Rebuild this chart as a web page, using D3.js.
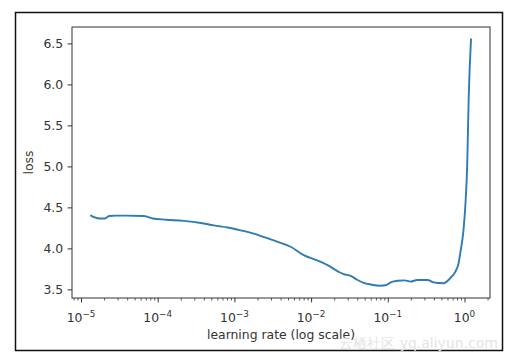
<!DOCTYPE html>
<html>
<head>
<meta charset="utf-8">
<script src="https://cdn.jsdelivr.net/npm/d3@7"></script>
<style>
  html, body { margin: 0; padding: 0; background: #fff; }
  svg { display: block; }
  text { font-family: "DejaVu Sans", sans-serif; }
</style>
</head>
<body>
<svg id="chart" width="511" height="360"></svg>
<script>
// ---- data ----
const learningRates = [
  1.35e-5, 1.48e-5, 1.71e-5, 2.05e-5, 2.32e-5, 2.86e-5, 3.85e-5, 6.61e-5,
  8.66e-5, 1.28e-4, 2.19e-4, 3.65e-4, 5.40e-4, 8.20e-4, 1.21e-3, 1.79e-3,
  2.56e-3, 3.67e-3, 5.42e-3, 8.02e-3, 1.15e-2, 1.64e-2, 2.29e-2, 2.65e-2,
  3.28e-2, 3.93e-2, 4.84e-2, 5.97e-2, 8.05e-2, 9.35e-2, 0.109, 0.134,
  0.166, 0.198, 0.244, 0.330, 0.394, 0.530, 0.658, 0.764,
  0.836, 0.887, 0.970, 1.030, 1.084, 1.135, 1.216
];
const losses = [
  4.40, 4.38, 4.365, 4.365, 4.395, 4.40, 4.40, 4.395,
  4.365, 4.35, 4.335, 4.31, 4.28, 4.255, 4.22, 4.18,
  4.13, 4.08, 4.02, 3.917, 3.86, 3.796, 3.714, 3.686,
  3.665, 3.62, 3.58, 3.56, 3.545, 3.55, 3.585, 3.605,
  3.61, 3.595, 3.615, 3.615, 3.585, 3.575, 3.64, 3.72,
  3.816, 3.96, 4.22, 4.55, 5.0, 5.84, 6.55
];
const yTickValues = [3.5, 4.0, 4.5, 5.0, 5.5, 6.0, 6.5];
const xTickExponents = [-5, -4, -3, -2, -1, 0];
const xLabel = "learning rate (log scale)";
const yLabel = "loss";
const watermark = "云栖社区 yq.aliyun.com";

// ---- layout ----
const svg = d3.select("#chart");
const plot = { left: 72, top: 27, right: 490, bottom: 298 };
const fs = 12.4;

// matplotlib-like 5% margins
const lxMin = Math.log10(d3.min(learningRates)), lxMax = Math.log10(d3.max(learningRates));
const lxPad = (lxMax - lxMin) * 0.05;
const yMin = d3.min(losses), yMax = d3.max(losses);
const yPad = (yMax - yMin) * 0.05;

const x = d3.scaleLog()
  .domain([Math.pow(10, lxMin - lxPad), Math.pow(10, lxMax + lxPad)])
  .range([plot.left, plot.right]);
const y = d3.scaleLinear()
  .domain([yMin - yPad, yMax + yPad])
  .range([plot.bottom, plot.top]);

// outer frame
svg.append("rect")
  .attr("x", 15.5).attr("y", 12.5).attr("width", 487).attr("height", 338)
  .attr("fill", "none").attr("stroke", "#111").attr("stroke-width", 1.5);

// line
const line = d3.line()
  .x((d, i) => x(learningRates[i]))
  .y(d => y(d))
  .curve(d3.curveMonotoneX);
svg.append("path")
  .datum(losses)
  .attr("d", line)
  .attr("fill", "none")
  .attr("stroke", "#2f7bb3")
  .attr("stroke-width", 1.9)
  .attr("stroke-linejoin", "round")
  .attr("stroke-linecap", "round");

// axes
const tickColor = "#333";
// y axis
const yAxis = d3.axisLeft(y).tickValues(yTickValues).tickFormat(d3.format(".1f"))
  .tickSizeInner(4.4).tickSizeOuter(0).tickPadding(4.4);
const gy = svg.append("g").attr("transform", `translate(${plot.left},0)`).call(yAxis);
gy.select(".domain").remove();
gy.selectAll("line").attr("stroke", tickColor).attr("stroke-width", 1);
gy.selectAll("text").attr("font-size", fs).attr("fill", "#333")
  .attr("font-family", "DejaVu Sans, sans-serif");

// x axis: major ticks
const majorVals = xTickExponents.map(e => Math.pow(10, e));
const xAxis = d3.axisBottom(x).tickValues(majorVals).tickFormat("")
  .tickSizeInner(4.4).tickSizeOuter(0);
const gx = svg.append("g").attr("transform", `translate(0,${plot.bottom})`).call(xAxis);
gx.select(".domain").remove();
gx.selectAll("line").attr("stroke", tickColor).attr("stroke-width", 1);

// minor ticks
const [d0, d1] = x.domain();
const minorVals = [];
for (let e = Math.floor(Math.log10(d0)); e <= Math.ceil(Math.log10(d1)); e++) {
  for (let m = 2; m <= 9; m++) {
    const v = m * Math.pow(10, e);
    if (v >= d0 && v <= d1) minorVals.push(v);
  }
}
const xMinor = d3.axisBottom(x).tickValues(minorVals).tickFormat("")
  .tickSizeInner(2.5).tickSizeOuter(0);
const gxm = svg.append("g").attr("transform", `translate(0,${plot.bottom})`).call(xMinor);
gxm.select(".domain").remove();
gxm.selectAll("line").attr("stroke", tickColor).attr("stroke-width", 0.8);

// x tick labels with superscripts
const xl = svg.append("g");
xTickExponents.forEach(e => {
  const t = xl.append("text")
    .attr("x", x(Math.pow(10, e)))
    .attr("y", 321.5)
    .attr("text-anchor", "middle")
    .attr("font-size", fs)
    .attr("fill", "#333");
  t.append("tspan").text("10");
  t.append("tspan").attr("dy", -5).attr("font-size", 8.8)
    .text(e < 0 ? "\u2212" + Math.abs(e) : String(e));
});

// spines
svg.append("rect")
  .attr("x", plot.left).attr("y", plot.top)
  .attr("width", plot.right - plot.left).attr("height", plot.bottom - plot.top)
  .attr("fill", "none").attr("stroke", "#333").attr("stroke-width", 1);

// axis labels
svg.append("text")
  .attr("x", (plot.left + plot.right) / 2).attr("y", 339)
  .attr("text-anchor", "middle").attr("font-size", fs).attr("fill", "#333")
  .text(xLabel);
svg.append("text")
  .attr("transform", `translate(33,${(plot.top + plot.bottom) / 2}) rotate(-90)`)
  .attr("text-anchor", "middle").attr("font-size", fs).attr("fill", "#333")
  .text(yLabel);

// watermark
svg.append("text")
  .attr("x", 498).attr("y", 348)
  .attr("text-anchor", "end").attr("font-size", 14)
  .attr("font-family", "Noto Sans CJK SC, sans-serif")
  .attr("fill", "#e4e4e4")
  .text(watermark);
</script>
</body>
</html>
